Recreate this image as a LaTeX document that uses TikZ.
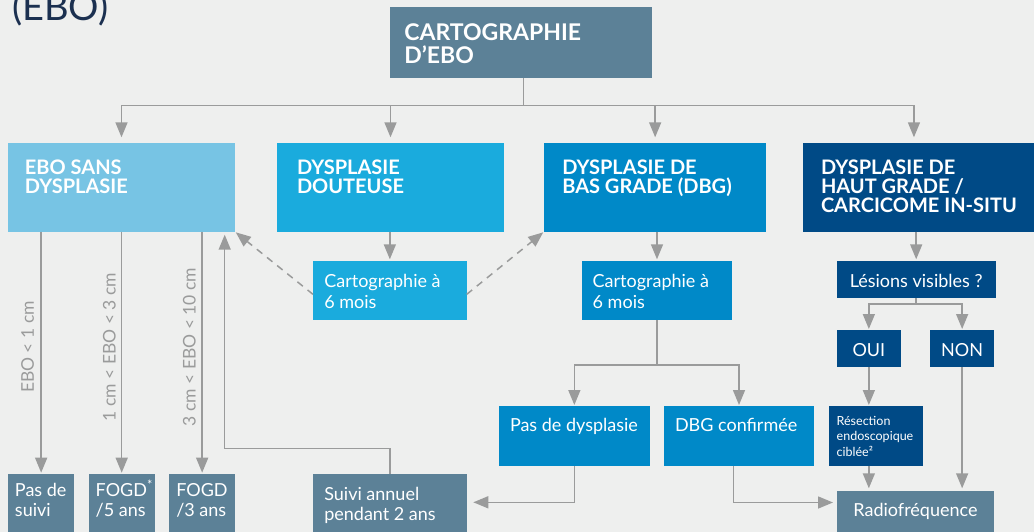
\documentclass[tikz,border=0pt]{standalone}
\usepackage{fontspec}
\setmainfont{Lato}
\usetikzlibrary{arrows.meta,calc}
\definecolor{bgc}{HTML}{EEEFEE}
\definecolor{cslate}{HTML}{5C8197}
\definecolor{clight}{HTML}{77C4E4}
\definecolor{ccyan}{HTML}{1AABDD}
\definecolor{cblue}{HTML}{0089C8}
\definecolor{cnavy}{HTML}{004A86}
\definecolor{cline}{HTML}{9A9B9B}
\definecolor{ctitle}{HTML}{1B3050}
\newcommand\bxt[6]{\parbox[t][#2][t]{#1}{#5\raggedright\leftskip=#3\relax\rule{0pt}{#4}#6}}
\newcommand\bxc[5]{\parbox[t][#2][t]{#1}{#4\centering\rule{0pt}{#3}#5}}
\newcommand\hdfont[2]{\fontsize{#1pt}{#2pt}\selectfont\bfseries}
\newcommand\rgfont[2]{\fontsize{#1pt}{#2pt}\selectfont}
\tikzset{
  box/.style={inner sep=0pt, outer sep=0pt, anchor=north west, text=white},
  ln/.style={draw=cline, line width=1.5pt},
  arr/.style={ln, -{Triangle[width=12pt,length=15pt]}},
  darr/.style={arr, dash pattern=on 7pt off 6pt},
  lbl/.style={text=cline, inner sep=0pt, rotate=90, anchor=base, font=\rgfont{17.5}{21}}
}
\begin{document}
\begin{tikzpicture}[x=1pt,y=-1pt]
\useasboundingbox (0,0) rectangle (1034,532);
\fill[bgc] (0,0) rectangle (1034,532);
\node[text=ctitle, inner sep=0pt, anchor=base west, font=\rgfont{38}{40}] (title) at (12,20.7) {(EBO)};
% top
\node[box, fill=cslate] (carto) at (390,7) {\bxt{261.7pt}{71pt}{14.3pt}{33.7pt}{\hdfont{23}{22.6}}{CARTOGRAPHIE\\D’EBO}};
% row 1
\node[box, fill=clight] (ebo) at (8,143.3) {\bxt{227pt}{88.4pt}{17pt}{31.7pt}{\hdfont{20}{19}}{EBO SANS\\DYSPLASIE}};
\node[box, fill=ccyan] (dout) at (277,143.3) {\bxt{227pt}{88.4pt}{20pt}{31.7pt}{\hdfont{20}{19}}{DYSPLASIE\\DOUTEUSE}};
\node[box, fill=cblue] (dbg) at (544,143.3) {\bxt{222.3pt}{88.4pt}{18.3pt}{31.7pt}{\hdfont{20}{19}}{DYSPLASIE DE\\BAS GRADE (DBG)}};
\node[box, fill=cnavy] (dhg) at (803.3,143.3) {\bxt{230.7pt}{88.4pt}{17.7pt}{31.7pt}{\hdfont{20}{18.7}}{DYSPLASIE DE\\HAUT GRADE /\\CARCICOME IN-SITU}};
% row 2
\node[box, fill=ccyan] (cartoD) at (313,260.7) {\bxt{153.7pt}{59.3pt}{11.3pt}{27pt}{\rgfont{18}{21}}{Cartographie à\\6 mois}};
\node[box, fill=cblue] (cartoB) at (581.7,260.7) {\bxt{150.6pt}{59.3pt}{11pt}{27pt}{\rgfont{18}{21}}{Cartographie à\\6 mois}};
\node[box, fill=cnavy] (lesions) at (836.7,260.7) {\bxc{159pt}{37.3pt}{27pt}{\rgfont{18}{21}}{Lésions visibles ?}};
\node[box, fill=cnavy] (oui) at (836.7,330) {\bxc{64.3pt}{37.3pt}{26pt}{\rgfont{18}{21}}{OUI}};
\node[box, fill=cnavy] (non) at (930,330) {\bxc{64.3pt}{37.3pt}{26pt}{\rgfont{18}{21}}{NON}};
% row 3
\node[box, fill=cblue] (pasdys) at (499,406) {\bxt{150.7pt}{60pt}{11pt}{25.7pt}{\rgfont{18}{21}}{Pas de dysplasie}};
\node[box, fill=cblue] (dbgc) at (663.7,406) {\bxt{150.6pt}{60pt}{11.3pt}{25.7pt}{\rgfont{18}{21}}{DBG confirmée}};
\node[box, fill=cnavy] (resec) at (829,406) {\bxt{93.7pt}{59.7pt}{7.7pt}{19pt}{\rgfont{12.5}{15.8}}{Résection\\endoscopique\\ciblée²}};
% bottom
\node[box, fill=cslate] (pasuivi) at (8.3,474) {\bxt{65.7pt}{60pt}{6.7pt}{22pt}{\rgfont{18}{20.7}}{Pas de\\suivi}};
\node[box, fill=cslate] (fogd5) at (88.7,474) {\bxt{66pt}{60pt}{7pt}{22pt}{\rgfont{18}{20.7}}{FOGD\textsuperscript{*}\\/5 ans}};
\node[box, fill=cslate] (fogd3) at (169.3,474) {\bxt{65.7pt}{60pt}{7pt}{22pt}{\rgfont{18}{20.7}}{FOGD\\/3 ans}};
\node[box, fill=cslate] (suivi) at (313,474) {\bxt{153.7pt}{60pt}{11.3pt}{26pt}{\rgfont{18}{20}}{Suivi annuel\\pendant 2 ans}};
\node[box, fill=cslate] (radio) at (836.7,491) {\bxc{157.6pt}{43pt}{25.7pt}{\rgfont{18}{21}}{Radiofréquence}};
% connectors top
\coordinate (hub) at (523.3,105.7);
\draw[ln] (carto.south -| hub) -- (hub);
\draw[arr, shorten >=6pt] (hub) -| (ebo.north);
\draw[arr, shorten >=6pt] (hub) -| (dout.north);
\draw[arr, shorten >=6pt] (hub) -| (dbg.north);
\draw[arr, shorten >=6pt] (hub) -| ([xshift=-4.7pt]dhg.north);
% row1 -> row2
\draw[arr, shorten >=1.4pt] (cartoD.north |- dout.south) -- (cartoD.north);
\draw[arr, shorten >=1.4pt] (cartoB.north |- dbg.south) -- (cartoB.north);
\draw[arr, shorten >=1.4pt] (lesions.north |- dhg.south) -- (lesions.north);
% dashed
\draw[darr, shorten >=1pt] ([yshift=-4pt]cartoD.west) -- (ebo.south east);
\draw[darr, shorten >=1pt] ([yshift=-4pt]cartoD.east) -- (dbg.south west);
% ebo branches
\draw[arr, shorten >=1.3pt] (pasuivi.north |- ebo.south) -- (pasuivi.north);
\draw[arr, shorten >=1.3pt] (fogd5.north |- ebo.south) -- (fogd5.north);
\draw[arr, shorten >=1.3pt] (fogd3.north |- ebo.south) -- (fogd3.north);
\node[lbl] (l1) at (34,347) {EBO < 1 cm};
\node[lbl] (l2) at (115.5,347) {1 cm < EBO < 3 cm};
\node[lbl] (l3) at (195.5,347) {3 cm < EBO < 10 cm};
% return
\coordinate (ret) at (224.7,448.7);
\draw[arr, shorten >=3pt] (suivi.north) |- (ret) -- (ret |- ebo.south);
% DBG split
\coordinate (sp) at ($(cartoB.south)+(0,45)$);
\draw[ln] (cartoB.south) -- (sp);
\draw[arr, shorten >=1pt] (sp) -| (pasdys.north);
\draw[arr, shorten >=1pt] (sp) -| (dbgc.north);
\draw[arr, shorten >=6.6pt] (pasdys.south) |- ([yshift=1.7pt]suivi.east);
\draw[arr, shorten >=3.7pt] ([xshift=-5.7pt]dbgc.south) |- ([yshift=10pt]radio.west);
% lesions split
\coordinate (ls) at ($(lesions.south)+(0,6)$);
\draw[ln] (lesions.south) -- (ls);
\draw[arr, shorten >=1pt] (ls) -| (oui.north);
\draw[arr, shorten >=1pt] (ls) -| (non.north);
\draw[arr, shorten >=1pt] (oui.south) -- (oui.south |- resec.north);
\draw[arr, shorten >=2.7pt] (oui.south |- resec.south) -- (oui.south |- radio.north);
\draw[arr, shorten >=2.7pt] (non.south) -- (non.south |- radio.north);
\end{tikzpicture}
\end{document}
